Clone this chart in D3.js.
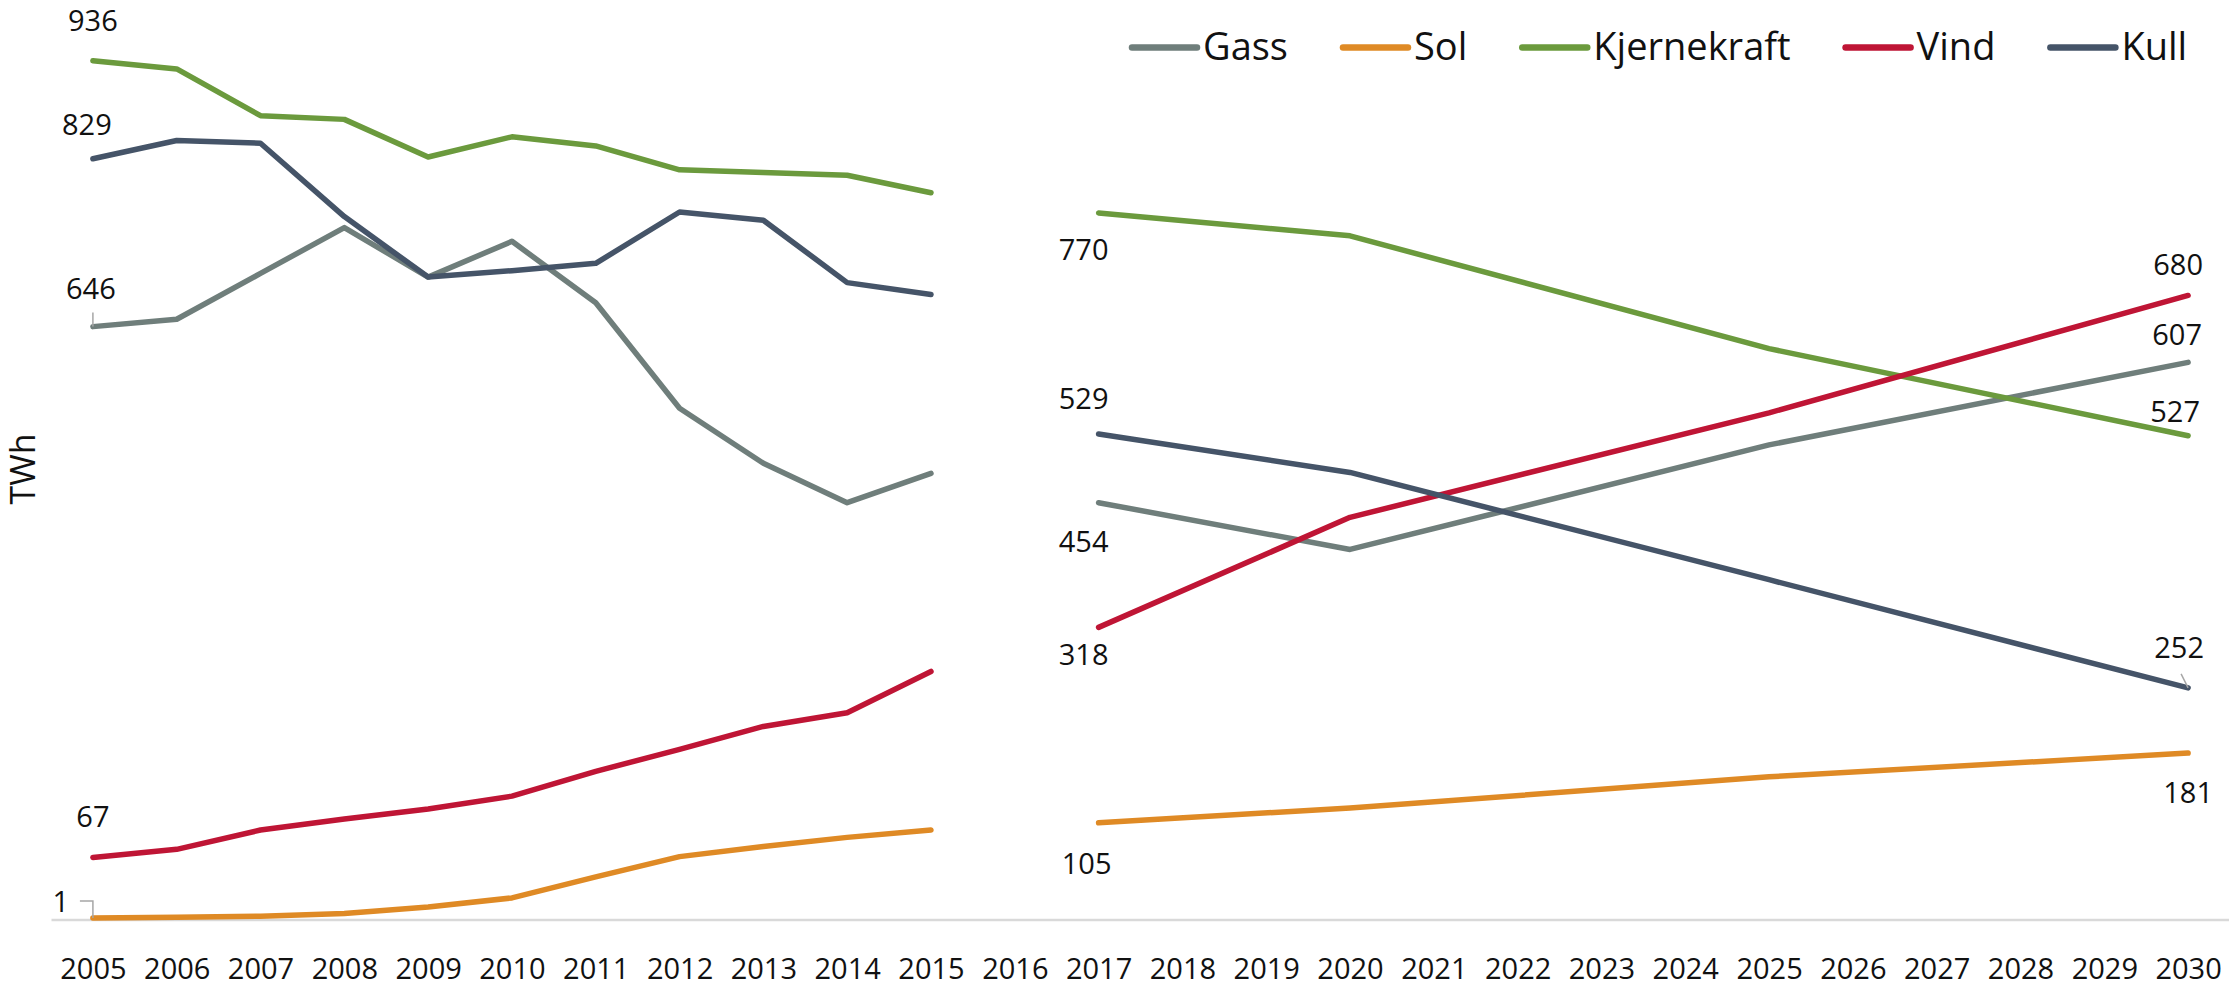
<!DOCTYPE html>
<html>
<head>
<meta charset="utf-8">
<script src="https://cdn.jsdelivr.net/npm/d3@7"></script>
<style>
  body { margin: 0; background: #fff; }
  svg text { font-family: "Open Sans", "Noto Sans", sans-serif; fill: #111; }
</style>
</head>
<body>
<svg width="2229" height="988"></svg>
<script>
// categories on the x axis (2016 has no data)
var years = ["2005", "2006", "2007", "2008", "2009", "2010", "2011", "2012", "2013",
             "2014", "2015", "2016", "2017", "2018", "2019", "2020", "2021", "2022",
             "2023", "2024", "2025", "2026", "2027", "2028", "2029", "2030"];
var histYears = ["2005", "2006", "2007", "2008", "2009", "2010", "2011", "2012", "2013", "2014", "2015"];
var projYears = ["2017", "2020", "2025", "2030"];

// TWh
var gassHist = [646, 654, 704, 754, 700, 739, 672, 557, 497, 454, 486];
var gassProj = [454, 403, 517, 607];
var solHist = [1, 2, 3, 6, 13, 23, 46, 68, 79, 89, 97];
var solProj = [105, 121, 155, 181];
var kjernekraftHist = [936, 927, 876, 872, 831, 853, 843, 817, 814, 811, 792];
var kjernekraftProj = [770, 745, 622, 527];
var vindHist = [67, 76, 97, 109, 120, 134, 161, 185, 210, 225, 270];
var vindProj = [318, 438, 552, 680];
var kullHist = [829, 849, 846, 766, 700, 707, 715, 771, 762, 694, 681];
var kullProj = [529, 487, 370, 252];

var seriesNames = ["Gass", "Sol", "Kjernekraft", "Vind", "Kull"];
var seriesColors = ["#6f7e7b", "#df8a25", "#6b9a3d", "#bf1535", "#455468"];

var svg = d3.select("svg");
var labelFont = "29px";

var series = [
    {name: "Gass", hist: gassHist, proj: gassProj},
    {name: "Sol", hist: solHist, proj: solProj},
    {name: "Kjernekraft", hist: kjernekraftHist, proj: kjernekraftProj},
    {name: "Vind", hist: vindHist, proj: vindProj},
    {name: "Kull", hist: kullHist, proj: kullProj}
];
series.forEach(function(s, i) { s.color = seriesColors[i]; });

var x = d3.scalePoint().domain(years).range([51, 2230]).padding(0.5);
var y = d3.scaleLinear().domain([0, 1000]).range([919, 2]);

// x axis: light baseline, no ticks
var gx = svg.append("g")
    .attr("transform", "translate(0,919.5)")
    .call(d3.axisBottom(x).tickSize(0).tickPadding(39))
    .attr("font-family", "'Open Sans', 'Noto Sans', sans-serif")
    .attr("font-size", 29);
gx.select(".domain").attr("stroke", "#d9d9d9").attr("stroke-width", 2.5);
gx.selectAll(".tick text").attr("fill", "#111");

// y axis title
svg.append("text")
   .attr("transform", "translate(35,469) rotate(-90)")
   .attr("text-anchor", "middle")
   .style("font-size", "34px")
   .text("TWh");

var line = d3.line()
    .x(function(d) { return x(d[0]); })
    .y(function(d) { return y(d[1]); });

// two separate pieces per series: history and projection
series.forEach(function(s) {
    [d3.zip(histYears, s.hist), d3.zip(projYears, s.proj)].forEach(function(pts) {
        svg.append("path")
           .attr("d", line(pts))
           .attr("fill", "none")
           .attr("stroke", s.color)
           .attr("stroke-width", 5.5)
           .attr("stroke-linejoin", "round")
           .attr("stroke-linecap", "round");
    });
});

function valueAt(name, year) {
    var s = series.find(function(d) { return d.name == name; });
    var i = histYears.indexOf(year);
    if (i >= 0) return s.hist[i];
    return s.proj[projYears.indexOf(year)];
}

// data labels: series, year, dx, dy (baseline offset from the point)
var labels = [
    ["Kjernekraft", "2005", 0, -30],
    ["Kull", "2005", -6, -24],
    ["Gass", "2005", -2, -28],
    ["Vind", "2005", 0, -31],
    ["Sol", "2005", -32, -6],
    ["Kjernekraft", "2017", -15, 47],
    ["Kull", "2017", -15, -25],
    ["Gass", "2017", -15, 49],
    ["Vind", "2017", -15, 38],
    ["Sol", "2017", -12, 51],
    ["Vind", "2030", -10, -20],
    ["Gass", "2030", -11, -17],
    ["Kjernekraft", "2030", -13, -14],
    ["Kull", "2030", -9, -30],
    ["Sol", "2030", 0, 50]
];

labels.forEach(function(l) {
    var v = valueAt(l[0], l[1]);
    svg.append("text")
       .attr("x", x(l[1]) + l[2])
       .attr("y", y(v) + l[3])
       .attr("text-anchor", "middle")
       .style("font-size", labelFont)
       .text(v);
});

// small leader lines from labels to points
var leaders = [
    ["Gass", "2005", [[0, -14], [0, 0]]],
    ["Sol", "2005", [[-13, -17], [0, -17], [0, 0]]],
    ["Kull", "2030", [[-7, -14], [0, 0]]]
];
leaders.forEach(function(l) {
    var px = x(l[1]), py = y(valueAt(l[0], l[1]));
    svg.append("polyline")
       .attr("points", l[2].map(function(p) { return (px + p[0]) + "," + (py + p[1]); }).join(" "))
       .attr("fill", "none")
       .attr("stroke", "#a6a6a6")
       .attr("stroke-width", 1.5);
});

// legend across the top right
var lx = 1132;
series.forEach(function(s) {
    svg.append("line")
       .attr("x1", lx).attr("x2", lx + 65)
       .attr("y1", 47.5).attr("y2", 47.5)
       .attr("stroke", s.color)
       .attr("stroke-width", 6.5)
       .attr("stroke-linecap", "round");
    var t = svg.append("text")
       .attr("x", lx + 71)
       .attr("y", 60)
       .style("font-size", "38px")
       .text(s.name);
    lx += 71 + t.node().getComputedTextLength() + 55;
});
</script>
</body>
</html>
